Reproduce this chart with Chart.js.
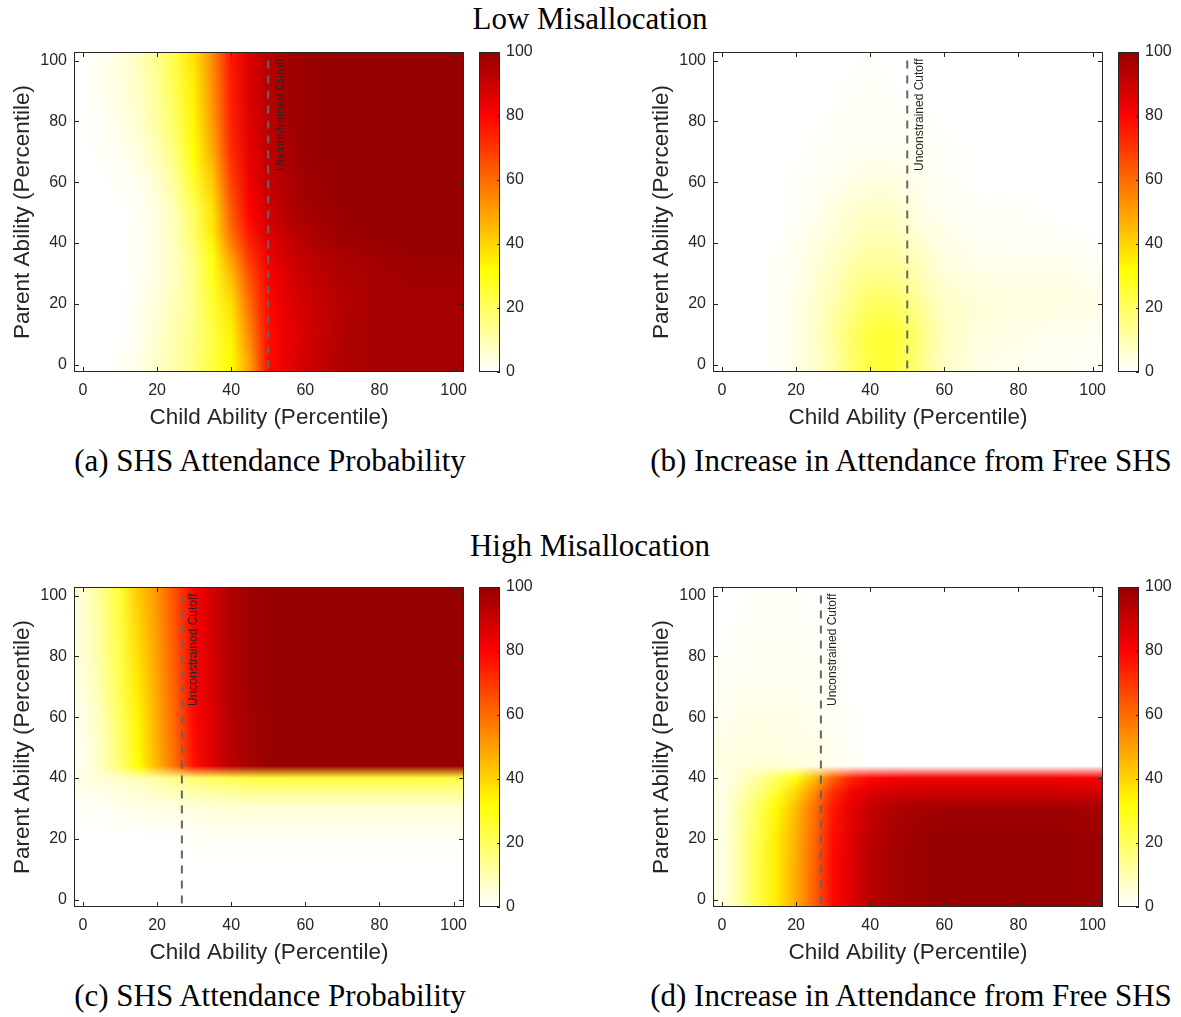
<!DOCTYPE html>
<html>
<head>
<meta charset="utf-8">
<script src="https://cdn.jsdelivr.net/npm/chart.js@4.4.0/dist/chart.umd.min.js"></script>
<style>
  body { margin: 0; background: #fff; }
  #page { position: relative; width: 1181px; height: 1017px; overflow: hidden; background: #fff; }
  canvas { position: absolute; }
  .cap { position: absolute; transform: translateX(-50%); font-family: 'Liberation Serif', 'Times New Roman', serif;
         font-size: 31px; color: #000; white-space: nowrap; line-height: 40px; height: 40px; }
</style>
</head>
<body>
<div id="page">
  <div class="cap" style="left:590px;top:-1px">Low Misallocation</div>
  <div class="cap" style="left:590px;top:526px">High Misallocation</div>
  <div class="cap" style="left:270px;top:441px">(a) SHS Attendance Probability</div>
  <div class="cap" style="left:911px;top:441px">(b) Increase in Attendance from Free SHS</div>
  <div class="cap" style="left:270px;top:976px">(c) SHS Attendance Probability</div>
  <div class="cap" style="left:911px;top:976px">(d) Increase in Attendance from Free SHS</div>

  <canvas id="heatA" width="470" height="400" style="left:0px;top:40px"></canvas>
  <canvas id="cbA" width="72" height="400" style="left:470px;top:40px"></canvas>
  <canvas id="heatB" width="470" height="400" style="left:639px;top:40px"></canvas>
  <canvas id="cbB" width="72" height="400" style="left:1109px;top:40px"></canvas>
  <canvas id="heatC" width="470" height="400" style="left:0px;top:575px"></canvas>
  <canvas id="cbC" width="72" height="400" style="left:470px;top:575px"></canvas>
  <canvas id="heatD" width="470" height="400" style="left:639px;top:575px"></canvas>
  <canvas id="cbD" width="72" height="400" style="left:1109px;top:575px"></canvas>
</div>
<script>
// grade: percentil do filho (colunas) e do pai (linhas, de baixo pra cima)
const childPct = [0, 5, 10, 15, 20, 25, 30, 35, 40, 45, 50, 55, 60, 70, 80, 90, 100];
const parentPct = [0, 10, 20, 30, 35, 40, 44, 50, 60, 70, 80, 90, 100];
const tickLabels = [0, 20, 40, 60, 80, 100];
const cutoffLow = 50;
const cutoffHigh = 26.7;

// (a) baixa misalocacao - probabilidade de frequentar SHS
const lowAttend = [
  [0, 0, 1, 3, 7, 11, 16, 24, 32, 50, 78, 84, 89, 95, 97, 97, 97],
  [0, 0, 0, 2, 6, 10, 15, 23, 34, 55, 78, 84, 88, 95, 97, 97, 97],
  [0, 0, 0, 2, 5, 9, 15, 26, 38, 60, 79, 85, 89, 94, 97, 97, 97],
  [0, 0, 0, 1, 4, 8, 15, 29, 45, 66, 81, 87, 91, 95, 97, 98, 98],
  [0, 0, 0, 1, 4, 8, 16, 30, 50, 70, 83, 89, 92, 96, 98, 99, 99],
  [0, 0, 0, 1, 4, 9, 18, 34, 56, 74, 85, 90, 94, 98, 99, 100, 100],
  [0, 0, 0, 1, 4, 9, 19, 36, 60, 77, 87, 92, 95, 99, 100, 100, 100],
  [0, 0, 0, 1, 4, 10, 20, 37, 63, 80, 89, 94, 97, 99, 100, 100, 100],
  [0, 0, 1, 2, 6, 13, 27, 42, 68, 83, 91, 95, 98, 100, 100, 100, 100],
  [0, 1, 2, 4, 9, 17, 32, 48, 72, 85, 92, 96, 99, 100, 100, 100, 100],
  [0, 1, 3, 6, 12, 20, 34, 51, 74, 86, 93, 97, 99, 100, 100, 100, 100],
  [0, 2, 4, 7, 13, 22, 35, 53, 75, 87, 94, 97, 99, 100, 100, 100, 100],
  [0, 2, 4, 8, 14, 24, 37, 54, 76, 87, 94, 97, 99, 100, 100, 100, 100]
];

// (b) baixa misalocacao - aumento com SHS gratis
const lowIncrease = [
  [0, 0, 0, 1, 3, 6, 11, 18, 24, 26, 21, 13, 7, 3, 2, 2, 1],
  [0, 0, 0, 1, 3, 7, 12, 19, 25, 26, 22, 14, 8, 4, 3, 2, 2],
  [0, 0, 0, 1, 3, 6, 10, 15, 20, 20, 17, 11, 7, 5, 4, 4, 3],
  [0, 0, 0, 1, 2, 5, 8, 12, 14, 14, 12, 8, 5, 3, 3, 3, 2],
  [0, 0, 0, 1, 2, 4, 7, 10, 12, 12, 10, 7, 4, 2, 2, 2, 1],
  [0, 0, 0, 0, 2, 3, 6, 8, 10, 10, 8, 5, 3, 2, 1, 1, 1],
  [0, 0, 0, 0, 1, 3, 5, 7, 9, 9, 7, 4, 3, 1, 1, 1, 0],
  [0, 0, 0, 0, 1, 2, 4, 6, 7, 7, 5, 3, 2, 1, 1, 0, 0],
  [0, 0, 0, 0, 1, 1, 2, 3, 4, 4, 3, 2, 1, 0, 0, 0, 0],
  [0, 0, 0, 0, 0, 1, 1, 2, 2, 2, 2, 1, 1, 0, 0, 0, 0],
  [0, 0, 0, 0, 0, 0, 1, 1, 1, 1, 1, 1, 0, 0, 0, 0, 0],
  [0, 0, 0, 0, 0, 0, 0, 1, 1, 1, 0, 0, 0, 0, 0, 0, 0],
  [0, 0, 0, 0, 0, 0, 0, 0, 1, 0, 0, 0, 0, 0, 0, 0, 0]
];

// (c) alta misalocacao - probabilidade de frequentar SHS
const highAttend = [
  [0, 0, 0, 0, 0, 0, 0, 0, 0, 0, 0, 0, 0, 0, 0, 0, 0],
  [0, 0, 0, 0, 0, 0, 0, 0, 0, 0, 0, 0, 0, 0, 0, 0, 0],
  [0, 0, 0, 0, 0, 0, 1, 1, 1, 1, 1, 1, 1, 1, 1, 1, 1],
  [1, 1, 2, 3, 3, 4, 4, 5, 5, 5, 5, 5, 5, 5, 5, 5, 5],
  [2, 3, 4, 5, 7, 8, 10, 11, 12, 13, 13, 13, 13, 13, 13, 13, 13],
  [4, 5, 7, 9, 12, 15, 18, 20, 22, 24, 25, 25, 25, 25, 25, 25, 24],
  [2, 8, 18, 32, 46, 60, 77, 86, 93, 97, 99, 100, 100, 100, 100, 100, 100],
  [2, 8, 18, 33, 47, 61, 78, 87, 94, 97, 99, 100, 100, 100, 100, 100, 100],
  [3, 9, 20, 34, 48, 62, 79, 87, 94, 97, 99, 100, 100, 100, 100, 100, 100],
  [4, 11, 22, 36, 49, 63, 80, 88, 95, 98, 100, 100, 100, 100, 100, 100, 100],
  [5, 12, 23, 38, 50, 64, 80, 88, 95, 98, 100, 100, 100, 100, 100, 100, 100],
  [5, 13, 24, 40, 51, 65, 81, 89, 95, 98, 100, 100, 100, 100, 100, 100, 100],
  [6, 14, 25, 42, 52, 66, 81, 89, 95, 98, 100, 100, 100, 100, 100, 100, 100]
];

// (d) alta misalocacao - aumento com SHS gratis
const highIncrease = [
  [3, 12, 24, 36, 48, 62, 79, 87, 93, 96, 98, 99, 100, 100, 100, 100, 99],
  [3, 12, 24, 36, 48, 62, 79, 87, 93, 96, 98, 99, 100, 100, 100, 100, 99],
  [3, 12, 23, 36, 47, 61, 78, 86, 93, 96, 98, 99, 100, 100, 100, 100, 99],
  [3, 11, 21, 33, 45, 59, 76, 85, 91, 94, 96, 97, 98, 98, 98, 98, 97],
  [3, 9, 17, 27, 40, 54, 72, 82, 87, 89, 90, 90, 90, 90, 90, 90, 89],
  [2, 6, 12, 20, 30, 45, 62, 74, 79, 81, 82, 82, 82, 82, 82, 82, 81],
  [4, 5, 5, 5, 4, 3, 2, 1, 0, 0, 0, 0, 0, 0, 0, 0, 0],
  [3, 4, 4, 4, 3, 3, 2, 1, 0, 0, 0, 0, 0, 0, 0, 0, 0],
  [2, 3, 3, 3, 3, 2, 1, 1, 0, 0, 0, 0, 0, 0, 0, 0, 0],
  [1, 2, 2, 2, 2, 2, 1, 0, 0, 0, 0, 0, 0, 0, 0, 0, 0],
  [1, 1, 2, 2, 2, 1, 1, 0, 0, 0, 0, 0, 0, 0, 0, 0, 0],
  [0, 1, 1, 1, 1, 1, 0, 0, 0, 0, 0, 0, 0, 0, 0, 0, 0],
  [0, 0, 1, 1, 1, 0, 0, 0, 0, 0, 0, 0, 0, 0, 0, 0, 0]
];

Chart.defaults.font.family = "'Liberation Sans', Arial, sans-serif";
Chart.defaults.color = '#262626';

const axMin = -2.4;
const axMax = 102.8;

// colormap "hot" invertido (branco -> amarelo -> vermelho -> vermelho escuro)
function hotColor(p) {
  const v = Math.max(0, Math.min(100, p)) / 100 * 0.78;
  let r = 1, g = 1, b = 0;
  if (v < 0.25) b = 1 - v / 0.25;
  if (v >= 0.25) g = v < 0.625 ? 1 - (v - 0.25) / 0.375 : 0;
  if (v >= 0.625) r = 1 - (v - 0.625) / 0.375;
  return [r * 255, g * 255, b * 255];
}

function findCell(arr, v) {
  const n = arr.length - 1;
  if (v <= arr[0]) return [0, 0, 0];
  if (v >= arr[n]) return [n, n, 0];
  let k = 0;
  while (arr[k + 1] < v) k++;
  return [k, k + 1, (v - arr[k]) / (arr[k + 1] - arr[k])];
}

// sem padding automatico dos rotulos, a area fica onde eu quero
function noPad(s) {
  s.paddingTop = 0; s.paddingBottom = 0; s.paddingLeft = 0; s.paddingRight = 0;
}

function heatmapPlugin(values, cutoff) {
  return {
    id: 'heatmap',
    beforeDatasetsDraw(chart) {
      const {left, top, right, bottom} = chart.chartArea;
      const x0 = Math.round(left), y0 = Math.round(top);
      const w = Math.round(right) - x0, h = Math.round(bottom) - y0;
      const xs = chart.scales.x, ys = chart.scales.y;
      const colors = values.map(row => row.map(hotColor));
      const img = chart.ctx.createImageData(w, h);
      const cols = [];
      for (let i = 0; i < w; i++) cols.push(findCell(childPct, xs.getValueForPixel(x0 + i + 0.5)));
      for (let j = 0; j < h; j++) {
        const [r0, r1, ty] = findCell(parentPct, ys.getValueForPixel(y0 + j + 0.5));
        for (let i = 0; i < w; i++) {
          const [c0, c1, tx] = cols[i];
          const idx = (j * w + i) * 4;
          for (let c = 0; c < 3; c++) {
            const a = colors[r0][c0][c] * (1 - tx) + colors[r0][c1][c] * tx;
            const b = colors[r1][c0][c] * (1 - tx) + colors[r1][c1][c] * tx;
            img.data[idx + c] = a * (1 - ty) + b * ty;
          }
          img.data[idx + 3] = 255;
        }
      }
      const off = document.createElement('canvas');
      off.width = w; off.height = h;
      off.getContext('2d').putImageData(img, 0, 0);
      chart.ctx.drawImage(off, x0, y0);
    },
    afterDraw(chart) {
      const ctx = chart.ctx;
      const {left, top, right, bottom} = chart.chartArea;
      const xs = chart.scales.x, ys = chart.scales.y;
      ctx.save();
      ctx.strokeStyle = '#262626';
      ctx.lineWidth = 1;
      ctx.beginPath();
      tickLabels.forEach(t => {
        const x = Math.round(xs.getPixelForValue(t)) + 0.5;
        ctx.moveTo(x, bottom); ctx.lineTo(x, bottom - 5);
        ctx.moveTo(x, top); ctx.lineTo(x, top + 5);
        const y = Math.round(ys.getPixelForValue(t)) + 0.5;
        ctx.moveTo(left, y); ctx.lineTo(left + 5, y);
        ctx.moveTo(right, y); ctx.lineTo(right - 5, y);
      });
      ctx.stroke();
      ctx.strokeRect(left + 0.5, top + 0.5, right - left - 1, bottom - top - 1);

      // texto do corte
      ctx.translate(xs.getPixelForValue(cutoff) + 12, ys.getPixelForValue(100) - 2);
      ctx.rotate(-Math.PI / 2);
      ctx.font = "12px 'Liberation Sans', Arial, sans-serif";
      ctx.fillStyle = '#262626';
      ctx.textAlign = 'right';
      ctx.textBaseline = 'middle';
      ctx.fillText('Unconstrained Cutoff', 0, 0);
      ctx.restore();
    }
  };
}

function makeHeatmap(id, values, cutoff) {
  new Chart(document.getElementById(id), {
    type: 'scatter',
    data: {
      datasets: [{
        data: [{x: cutoff, y: 100}, {x: cutoff, y: axMin}],
        showLine: true,
        borderColor: '#666666',
        borderWidth: 2,
        borderDash: [8, 7],
        pointRadius: 0
      }]
    },
    options: {
      responsive: false,
      animation: false,
      devicePixelRatio: 1,
      events: [],
      layout: { padding: { top: 12, right: 6, left: 0, bottom: 0 } },
      plugins: { legend: { display: false }, tooltip: { enabled: false } },
      scales: {
        x: {
          type: 'linear', min: axMin, max: axMax,
          afterFit: s => { s.height = 68; noPad(s); },
          grid: { display: false, drawTicks: false },
          border: { display: false },
          ticks: { stepSize: 20, includeBounds: false, padding: 9, maxRotation: 0, font: { size: 16 }, color: '#262626' },
          title: { display: true, text: 'Child Ability (Percentile)', font: { size: 22.5 }, color: '#262626', padding: { top: 0, bottom: 9 } }
        },
        y: {
          type: 'linear', min: axMin, max: axMax,
          afterFit: s => { s.width = 74; noPad(s); },
          grid: { display: false, drawTicks: false },
          border: { display: false },
          ticks: { stepSize: 20, includeBounds: false, padding: 7, font: { size: 16 }, color: '#262626' },
          title: { display: true, text: 'Parent Ability (Percentile)', font: { size: 22.5 }, color: '#262626', padding: { top: 9, bottom: 0 } }
        }
      }
    },
    plugins: [heatmapPlugin(values, cutoff)]
  });
}

const colorbarPlugin = {
  id: 'colorbar',
  beforeDatasetsDraw(chart) {
    const ctx = chart.ctx;
    const {left, top, right, bottom} = chart.chartArea;
    const ys = chart.scales.y;
    const x0 = Math.round(left), x1 = Math.round(right);
    for (let y = Math.round(top); y < Math.round(bottom); y++) {
      const c = hotColor(ys.getValueForPixel(y + 0.5));
      ctx.fillStyle = 'rgb(' + c.map(v => Math.round(v)).join(',') + ')';
      ctx.fillRect(x0, y, x1 - x0, 1);
    }
  },
  afterDraw(chart) {
    const ctx = chart.ctx;
    const {left, top, right, bottom} = chart.chartArea;
    const ys = chart.scales.y;
    ctx.save();
    ctx.strokeStyle = '#262626';
    ctx.lineWidth = 1;
    ctx.beginPath();
    tickLabels.forEach(t => {
      const y = Math.round(ys.getPixelForValue(t)) + 0.5;
      ctx.moveTo(right, y); ctx.lineTo(right - 3, y);
    });
    ctx.stroke();
    ctx.strokeRect(left + 0.5, top + 0.5, right - left - 1, bottom - top - 1);
    ctx.restore();
  }
};

function makeColorbar(id) {
  new Chart(document.getElementById(id), {
    type: 'scatter',
    data: { datasets: [] },
    options: {
      responsive: false,
      animation: false,
      devicePixelRatio: 1,
      events: [],
      layout: { padding: { top: 12, bottom: 68, left: 9, right: 0 } },
      plugins: { legend: { display: false }, tooltip: { enabled: false } },
      scales: {
        x: { type: 'linear', display: false, min: 0, max: 1 },
        y: {
          type: 'linear', position: 'right', min: 0, max: 100,
          afterFit: s => { s.width = 42; noPad(s); },
          grid: { display: false, drawTicks: false },
          border: { display: false },
          ticks: { stepSize: 20, padding: 6, font: { size: 16 }, color: '#262626' }
        }
      }
    },
    plugins: [colorbarPlugin]
  });
}

makeHeatmap('heatA', lowAttend, cutoffLow);
makeHeatmap('heatB', lowIncrease, cutoffLow);
makeHeatmap('heatC', highAttend, cutoffHigh);
makeHeatmap('heatD', highIncrease, cutoffHigh);
makeColorbar('cbA');
makeColorbar('cbB');
makeColorbar('cbC');
makeColorbar('cbD');
</script>
</body>
</html>
